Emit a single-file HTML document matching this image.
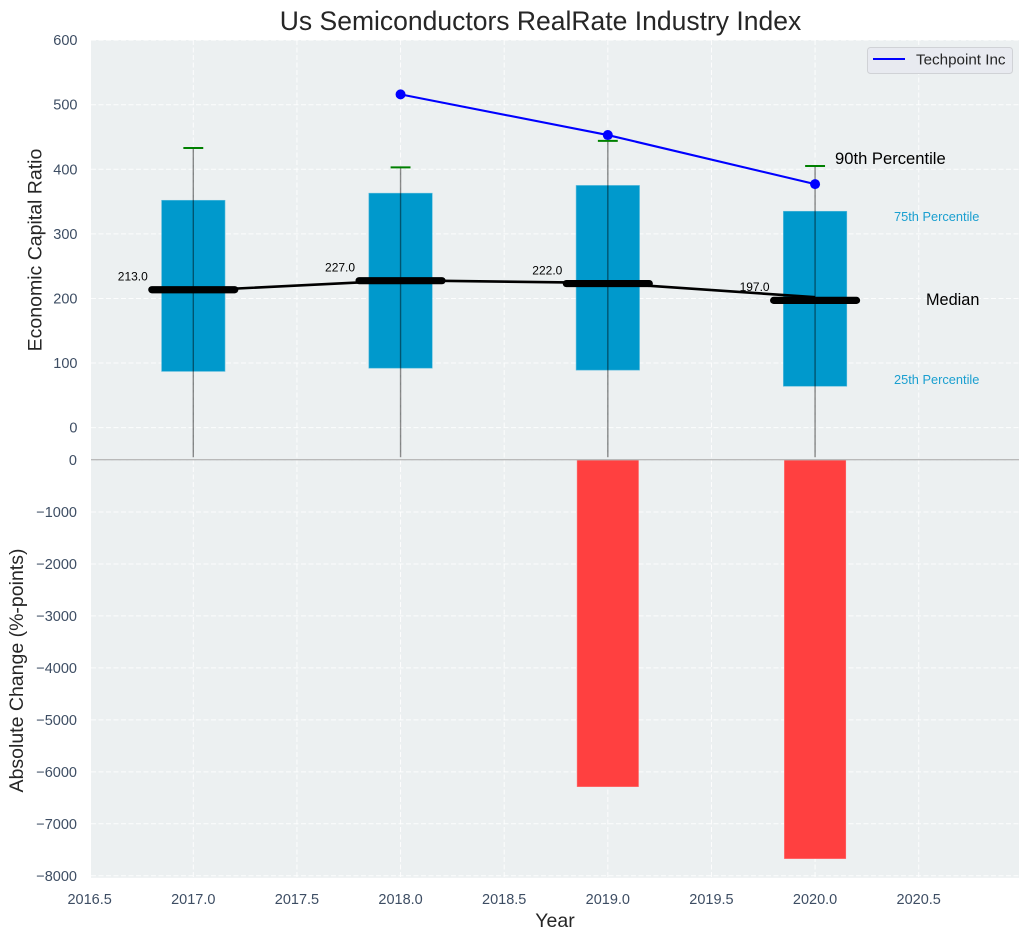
<!DOCTYPE html>
<html lang="en">
<head>
<meta charset="utf-8">
<title>Us Semiconductors RealRate Industry Index</title>
<style>
html,body{margin:0;padding:0;background:#fff;width:1029px;height:940px;overflow:hidden}
svg{display:block;font-family:"Liberation Sans",Arial,sans-serif}
</style>
</head>
<body>
<svg id="chart" xmlns="http://www.w3.org/2000/svg" width="1029" height="940" viewBox="0 0 1029 940">
  <rect x="0" y="0" width="1029" height="940" fill="#ffffff"/>
  <rect x="91" y="40" width="928" height="419.5" fill="#ecf0f1"/>
  <rect x="91" y="459.5" width="928" height="418.3" fill="#ecf0f1"/>
  <g id="grid"></g>
  <g id="bars"></g>
  <line x1="91" x2="1019" y1="459.7" y2="459.7" stroke="#b9b9b9" stroke-width="1.3"/>
  <g id="marks"></g>
  <g id="ticks" font-size="14.5" fill="#3d4d63"></g>
  <text x="540.5" y="30" text-anchor="middle" font-size="26.5" fill="#262626">Us Semiconductors RealRate Industry Index</text>
  <text transform="translate(41.5,250) rotate(-90)" text-anchor="middle" font-size="19.5" fill="#262626">Economic Capital Ratio</text>
  <text transform="translate(23,670.5) rotate(-90)" text-anchor="middle" font-size="19.5" fill="#262626">Absolute Change (%-points)</text>
  <text x="555" y="927" text-anchor="middle" font-size="19.5" fill="#262626">Year</text>
  <text x="835" y="164" font-size="16.6" fill="#000">90th Percentile</text>
  <text x="894" y="221" font-size="12.8" fill="#1a9fd0">75th Percentile</text>
  <text x="926" y="305" font-size="16.3" fill="#000">Median</text>
  <text x="894" y="384" font-size="12.8" fill="#1a9fd0">25th Percentile</text>
  <g>
    <rect x="867.5" y="47.5" width="145" height="26" rx="3" fill="#e8eaf0" stroke="#d0d2d6" stroke-width="1"/>
    <line x1="873" x2="905" y1="59" y2="59" stroke="#0000ff" stroke-width="2"/>
    <text x="916" y="64.5" font-size="15.2" fill="#262626">Techpoint Inc</text>
  </g>
</svg>
<script>
const years = [2017, 2018, 2019, 2020];
const p25 = [87, 92, 89, 64];
const p75 = [352, 363, 375, 335];
const p90 = [433, 403, 444, 405];
const whiskerLow = [-46, -46, -46, -46];
const medians = [213.5, 227.5, 223, 197];
const medianLabels = ["213.0", "227.0", "222.0", "197.0"];
const medianTrend = [212, 228, 224, 202];
const techpointYears = [2018, 2019, 2020];
const techpointValues = [516, 453, 377];
const changeYears = [2019, 2020];
const changeValues = [-6285, -7670];
const xTicks = [2016.5, 2017, 2017.5, 2018, 2018.5, 2019, 2019.5, 2020, 2020.5];
const xTickLabels = ["2016.5", "2017.0", "2017.5", "2018.0", "2018.5", "2019.0", "2019.5", "2020.0", "2020.5"];
const topTicks = [0, 100, 200, 300, 400, 500, 600];
const bottomTicks = [0, -1000, -2000, -3000, -4000, -5000, -6000, -7000, -8000];

const NS = "http://www.w3.org/2000/svg";
function xPos(v) { return 193.3 + (v - 2017) * 207.26; }
function yTop(v) { return 427.6 - v * 0.6458; }
function yBottom(v) { return 460 - v * 0.05197; }

function make(parent, tag, props, text) {
  const el = document.createElementNS(NS, tag);
  for (const k in props) el.setAttribute(k, props[k]);
  if (text !== undefined) el.textContent = text;
  parent.appendChild(el);
  return el;
}

const grid = document.getElementById("grid");
const bars = document.getElementById("bars");
const marks = document.getElementById("marks");
const ticks = document.getElementById("ticks");
const gridStyle = { stroke: "#ffffff", "stroke-width": 1, "stroke-opacity": 0.85, "stroke-dasharray": "5 2.5" };

topTicks.forEach(function (t) {
  const el = make(grid, "line", Object.assign({ x1: 91, x2: 1019, y1: yTop(t), y2: yTop(t) }, gridStyle));
  
  
  const lab = make(ticks, "text", { x: 77.5, y: yTop(t) + 5, "text-anchor": "end" }, String(t));
  
  
});

bottomTicks.forEach(function (t) {
  const el = make(grid, "line", Object.assign({ x1: 91, x2: 1019, y1: yBottom(t), y2: yBottom(t) }, gridStyle));
  
  
  const txt = t < 0 ? "\u2212" + Math.abs(t) : String(t);
  const lab = make(ticks, "text", { x: 77, y: yBottom(t) + 5, "text-anchor": "end" }, txt);
  
  
});

xTicks.forEach(function (t, i) {
  if (xPos(t) > 91) {
    const top = make(grid, "line", Object.assign({ x1: xPos(t), x2: xPos(t), y1: 40, y2: 459.5 }, gridStyle));
    
    
    const bot = make(grid, "line", Object.assign({ x1: xPos(t), x2: xPos(t), y1: 459.5, y2: 877.8 }, gridStyle));
    
    
  }
  const lab = make(ticks, "text", { x: xPos(t), y: 904, "text-anchor": "middle" }, xTickLabels[i]);
  
  
});

const boxHalf = 0.153;
years.forEach(function (yr, i) {
  const box = make(bars, "rect", {
    x: xPos(yr - boxHalf), y: yTop(p75[i]),
    width: xPos(yr + boxHalf) - xPos(yr - boxHalf), height: yTop(p25[i]) - yTop(p75[i]),
    fill: "#0099cc", stroke: "#5cbcdc", "stroke-width": 0.6
  });
  
  
});

const barHalf = 0.148;
changeYears.forEach(function (yr, i) {
  const bar = make(bars, "rect", {
    x: xPos(yr - barHalf), y: yBottom(0),
    width: xPos(yr + barHalf) - xPos(yr - barHalf), height: yBottom(changeValues[i]) - yBottom(0),
    fill: "#ff4040", stroke: "#ff6a6a", "stroke-width": 0.6
  });
  
  
});

years.forEach(function (yr, i) {
  const w = make(marks, "line", {
    x1: xPos(yr), x2: xPos(yr), y1: yTop(p90[i]), y2: yTop(whiskerLow[i]),
    stroke: "#000000", "stroke-opacity": 0.45, "stroke-width": 1.4
  });
  
  
  const cap = make(marks, "line", {
    x1: xPos(yr - 0.048), x2: xPos(yr + 0.048), y1: yTop(p90[i]), y2: yTop(p90[i]),
    stroke: "#008000", "stroke-width": 2
  });
  
  
});

const trend = make(marks, "polyline", {
  points: years.map(function (yr, i) { return xPos(yr) + "," + yTop(medianTrend[i]); }).join(" "),
  fill: "none", stroke: "#000000", "stroke-width": 2.6
});



years.forEach(function (yr, i) {
  const m = make(marks, "line", {
    x1: xPos(yr - 0.2), x2: xPos(yr + 0.2), y1: yTop(medians[i]), y2: yTop(medians[i]),
    stroke: "#000000", "stroke-width": 7.2, "stroke-linecap": "round"
  });
  
  
  const lab = make(marks, "text", {
    x: xPos(yr) - 60.5, y: yTop(medians[i]) - 9.3, "text-anchor": "middle",
    "font-size": 12, fill: "#000000"
  }, medianLabels[i]);
  
  
});

const tech = make(marks, "polyline", {
  points: techpointYears.map(function (yr, i) { return xPos(yr) + "," + yTop(techpointValues[i]); }).join(" "),
  fill: "none", stroke: "#0000ff", "stroke-width": 2.1
});



techpointYears.forEach(function (yr, i) {
  const pt = make(marks, "circle", { cx: xPos(yr), cy: yTop(techpointValues[i]), r: 5, fill: "#0000ff" });
  
  
});
</script>
</body>
</html>
